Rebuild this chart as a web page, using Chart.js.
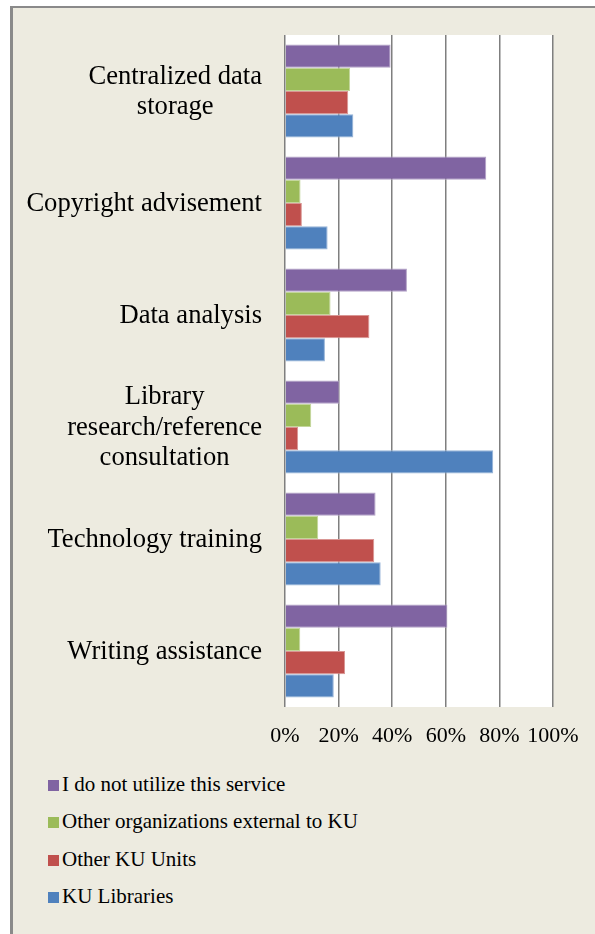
<!DOCTYPE html>
<html>
<head>
<meta charset="utf-8">
<script src="https://cdn.jsdelivr.net/npm/chart.js@4"></script>
<style>
html, body { margin: 0; padding: 0; background: #fff; }
#frame {
	position: absolute; left: 10px; top: 6px; width: 585px; height: 928px;
	box-sizing: border-box; background: #edebe0;
	border-left: 3px solid #8a8a8a; border-top: 2px solid #8a8a8a;
}
#chart { position: absolute; left: 0; top: 0; }
#legend {
	position: absolute; left: 35px; top: 758px;
	font-family: 'Liberation Serif', 'Times New Roman', serif; font-size: 21px; color: #000;
}
.item { height: 37.3px; line-height: 37.3px; white-space: nowrap; }
.box { display: inline-block; width: 11px; height: 11px; margin-right: 3px; }
</style>
</head>
<body>
<div id="frame">
	<canvas id="chart" width="582" height="752"></canvas>
	<div id="legend"></div>
</div>
<script>
// categories (multi-line like the original axis)
var categories = [
	['Centralized data', 'storage'],
	['Copyright advisement'],
	['Data analysis'],
	['Library', 'research/reference', 'consultation'],
	['Technology training'],
	['Writing assistance']
];

// series values, percent
var notUtilized = [39.4, 75.1, 45.5, 20.3, 33.8, 60.6];
var externalOrgs = [24.3, 5.8, 17.0, 9.8, 12.4, 5.7];
var otherKuUnits = [23.6, 6.3, 31.5, 4.9, 33.3, 22.4];
var kuLibraries = [25.5, 15.9, 14.9, 77.7, 35.7, 18.2];

var xTicks = [0, 20, 40, 60, 80, 100];

var seriesNames = ['I do not utilize this service', 'Other organizations external to KU', 'Other KU Units', 'KU Libraries'];
var seriesColors = ['#8064a2', '#9bbb59', '#c0504d', '#4f81bd'];
var seriesBorders = ['#b3a2c7', '#c3d69b', '#d99694', '#95b3d7'];
var seriesData = [notUtilized, externalOrgs, otherKuUnits, kuLibraries];

var serif = "'Liberation Serif', 'Times New Roman', serif";

// white plot area
var plotBg = {
	id: 'plotBg',
	beforeDraw: function (chart) {
		var a = chart.chartArea, ctx = chart.ctx;
		ctx.save();
		ctx.fillStyle = '#ffffff';
		ctx.fillRect(a.left, a.top, a.right - a.left, a.bottom - a.top);
		ctx.restore();
	}
};

// category labels: block right aligned, lines centered inside the block
var yLabels = {
	id: 'yLabels',
	afterDraw: function (chart) {
		var ctx = chart.ctx, y = chart.scales.y, a = chart.chartArea;
		ctx.save();
		ctx.font = '26.6px ' + serif;
		ctx.fillStyle = '#000';
		ctx.textAlign = 'center';
		ctx.textBaseline = 'middle';
		categories.forEach(function (lines, i) {
			var w = Math.max.apply(null, lines.map(function (l) { return ctx.measureText(l).width; }));
			var cx = a.left - 23 - w / 2;
			var cy = y.getPixelForValue(i) + 1;
			lines.forEach(function (l, j) {
				ctx.fillText(l, cx, cy + (j - (lines.length - 1) / 2) * 30.5);
			});
		});
		ctx.restore();
	}
};

var ctx = document.getElementById('chart').getContext('2d');
var chart = new Chart(ctx, {
	type: 'bar',
	data: {
		labels: categories,
		datasets: seriesData.map(function (d, i) {
			return {
				label: seriesNames[i],
				data: d,
				backgroundColor: seriesColors[i],
				borderColor: seriesBorders[i],
				borderWidth: 1,
				categoryPercentage: 0.83,
				barPercentage: 1
			};
		})
	},
	options: {
		indexAxis: 'y',
		responsive: false,
		animation: false,
		layout: { padding: { top: 27, right: 42, bottom: 13, left: 0 } },
		plugins: {
			legend: { display: false },
			tooltip: { enabled: false }
		},
		scales: {
			x: {
				min: 0,
				max: 100,
				afterBuildTicks: function (scale) {
					scale.ticks = xTicks.map(function (v) { return { value: v }; });
				},
				afterFit: function (scale) { scale.height = 40; },
				grid: { color: '#7f7f7f', lineWidth: 1.5, drawTicks: false },
				border: { display: false },
				ticks: {
					padding: 16,
					color: '#000',
					maxRotation: 0,
					minRotation: 0,
					autoSkip: false,
					font: { family: serif, size: 22 },
					callback: function (v) { return v + '%'; }
				}
			},
			y: {
				afterFit: function (scale) { scale.width = 272; },
				grid: { display: false },
				border: { display: false },
				ticks: { display: false }
			}
		}
	},
	plugins: [plotBg, yLabels]
});

// legend, one entry per line
var legend = document.getElementById('legend');
seriesNames.forEach(function (name, i) {
	var row = document.createElement('div');
	row.className = 'item';
	var box = document.createElement('span');
	box.className = 'box';
	box.style.background = seriesColors[i];
	row.appendChild(box);
	row.appendChild(document.createTextNode(name));
	legend.appendChild(row);
});
</script>
</body>
</html>
